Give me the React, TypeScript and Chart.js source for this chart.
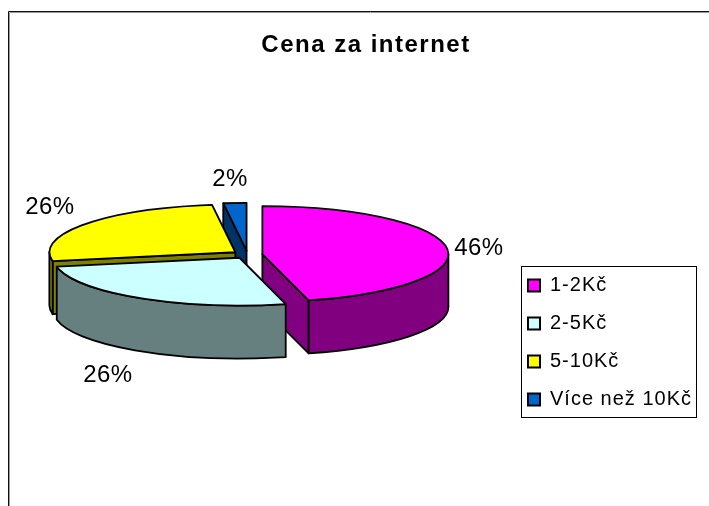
import React, { useEffect, useRef } from "react";
import { Chart, registerables } from "chart.js";

Chart.register(...registerables);

const categories = ["1-2Kč", "2-5Kč", "5-10Kč", "Více než 10Kč"];
const shares = [46, 26, 26, 2];
const topColors = ["#FF00FF", "#CCFFFF", "#FFFF00", "#0066CC"];
const sideColors = ["#800080", "#668080", "#808000", "#003366"];
const chartTitle = "Cena za internet";

// painter's order, back to front
const paintOrder = [3, 2, 0, 1];
// percent label nudges from each slice's rim midpoint
const labelNudge = [[32, 0], [-32, 77], [-35, -17], [-5, -24]];

const SQUASH = 0.257;
const DEPTH = 53;
const EXPLODE = 15;
const RADIUS = 186;
const CENTER_Y = 254.5;
const LEGEND_SPACING = "1px";
const TITLE_SPACING = "1.5px";

const pie3d = {
  id: "pie3d",
  beforeUpdate(chart: any) {
    chart.ctx.letterSpacing = LEGEND_SPACING;
  },
  afterLayout(chart: any) {
    const lg = chart.legend;
    lg.left = 510;
    lg.right = 725;
    lg.top = 257.5;
    lg.bottom = 500;
    const tb = chart.titleBlock;
    tb.left = 0;
    tb.right = chart.width;
    tb.width = chart.width;
    if (!tb.__spaced) {
      tb.__spaced = true;
      const orig = tb.draw.bind(tb);
      tb.draw = () => {
        chart.ctx.letterSpacing = TITLE_SPACING;
        orig();
        chart.ctx.letterSpacing = LEGEND_SPACING;
      };
    }
  },
  beforeDraw(chart: any) {
    const c = chart.ctx;
    c.save();
    c.fillStyle = "#fff";
    c.fillRect(0, 0, chart.width, chart.height);
    const frame = (offset: number, color: string) => {
      c.strokeStyle = color;
      c.lineWidth = 1;
      c.beginPath();
      c.moveTo(8.5 + offset, chart.height);
      c.lineTo(8.5 + offset, 11.5 + offset);
      c.lineTo(chart.width, 11.5 + offset);
      c.stroke();
    };
    frame(1, "#999");
    frame(0, "#111");
    c.restore();
  },
  beforeDatasetsDraw(chart: any) {
    const c = chart.ctx;
    const meta = chart.getDatasetMeta(0);
    const sliceAt = (i: number) => {
      const a = meta.data[i];
      const mid = (a.startAngle + a.endAngle) / 2;
      return { a, mid, cx: a.x + Math.cos(mid) * EXPLODE, cy: CENTER_Y + Math.sin(mid) * EXPLODE * SQUASH };
    };
    c.save();
    c.lineJoin = "round";
    c.strokeStyle = "#000";
    c.lineWidth = 1.8;
    const shape = (fill: string) => {
      c.fillStyle = fill;
      c.fill();
      c.stroke();
    };
    for (const i of paintOrder) {
      const { a, cx, cy } = sliceAt(i);
      const R = a.outerRadius;
      const ry = R * SQUASH;
      const s = a.startAngle;
      const e = a.endAngle;
      const px = (t: number) => cx + R * Math.cos(t);
      const py = (t: number) => cy + ry * Math.sin(t);
      // straight walls facing the viewer
      const walls: number[] = [];
      if (Math.cos(s) < -1e-6) walls.push(s);
      if (Math.cos(e) > 1e-6) walls.push(e);
      for (const t of walls) {
        c.beginPath();
        c.moveTo(cx, cy);
        c.lineTo(px(t), py(t));
        c.lineTo(px(t), py(t) + DEPTH);
        c.lineTo(cx, cy + DEPTH);
        c.closePath();
        shape(sideColors[i]);
      }
      // curved wall, front half of the rim only
      const a0 = Math.max(s, 0);
      const a1 = Math.min(e, Math.PI);
      if (a1 > a0) {
        c.beginPath();
        c.ellipse(cx, cy, R, ry, 0, a0, a1);
        c.ellipse(cx, cy + DEPTH, R, ry, 0, a1, a0, true);
        c.closePath();
        shape(sideColors[i]);
      }
      // top face, drawn by the library's arc element
      c.save();
      c.translate(0, cy);
      c.scale(1, SQUASH);
      c.translate(cx - a.x, -a.y);
      a.draw(c);
      c.restore();
      c.beginPath();
      c.moveTo(cx, cy);
      c.ellipse(cx, cy, R, ry, 0, s, e);
      c.closePath();
      c.stroke();
    }
    // percent labels
    c.fillStyle = "#000";
    c.font = "24px 'Liberation Sans'";
    c.letterSpacing = "0.4px";
    c.textAlign = "center";
    c.textBaseline = "middle";
    shares.forEach((v, i) => {
      const { a, mid, cx, cy } = sliceAt(i);
      const x = cx + a.outerRadius * Math.cos(mid) + labelNudge[i][0];
      const y = cy + a.outerRadius * SQUASH * Math.sin(mid) + labelNudge[i][1];
      c.fillText(`${v}%`, x, y);
    });
    c.letterSpacing = LEGEND_SPACING;
    c.restore();
    return false;
  },
  afterDraw(chart: any) {
    const c = chart.ctx;
    c.save();
    c.strokeStyle = "#000";
    c.lineWidth = 1;
    c.strokeRect(521.5, 266.5, 175, 151);
    c.restore();
  },
};

export default function App() {
  const ref = useRef<HTMLCanvasElement>(null);
  useEffect(() => {
    const canvas = ref.current!;
    const chart = new Chart(canvas, {
      type: "pie",
      data: {
        labels: categories,
        datasets: [{ data: shares, backgroundColor: topColors, borderWidth: 0 }],
      },
      options: {
        animation: false,
        responsive: false,
        radius: RADIUS,
        layout: { padding: { left: 0, right: 237, top: 0, bottom: 0 } },
        plugins: {
          tooltip: { enabled: false },
          title: {
            display: true,
            text: chartTitle,
            color: "#000",
            font: { family: "'Liberation Sans'", size: 24, weight: "bold" },
            padding: { top: 31, bottom: 6 },
          },
          legend: {
            position: "chartArea",
            align: "start",
            labels: {
              color: "#000",
              font: { family: "'Liberation Sans'", size: 20 },
              boxWidth: 12,
              boxHeight: 12,
              padding: 18,
              generateLabels: () =>
                categories.map((text, i) => ({
                  text,
                  fillStyle: topColors[i],
                  strokeStyle: "#000",
                  lineWidth: 2,
                  index: i,
                  hidden: false,
                })),
            },
          },
        },
      } as any,
      plugins: [pie3d as any],
    });
    return () => chart.destroy();
  }, []);
  return (
    <div style={{ position: "absolute", left: 0, top: 0, width: 709, height: 506, overflow: "hidden", background: "#fff" }}>
      <canvas ref={ref} width={732} height={506} style={{ display: "block" }} />
    </div>
  );
}
